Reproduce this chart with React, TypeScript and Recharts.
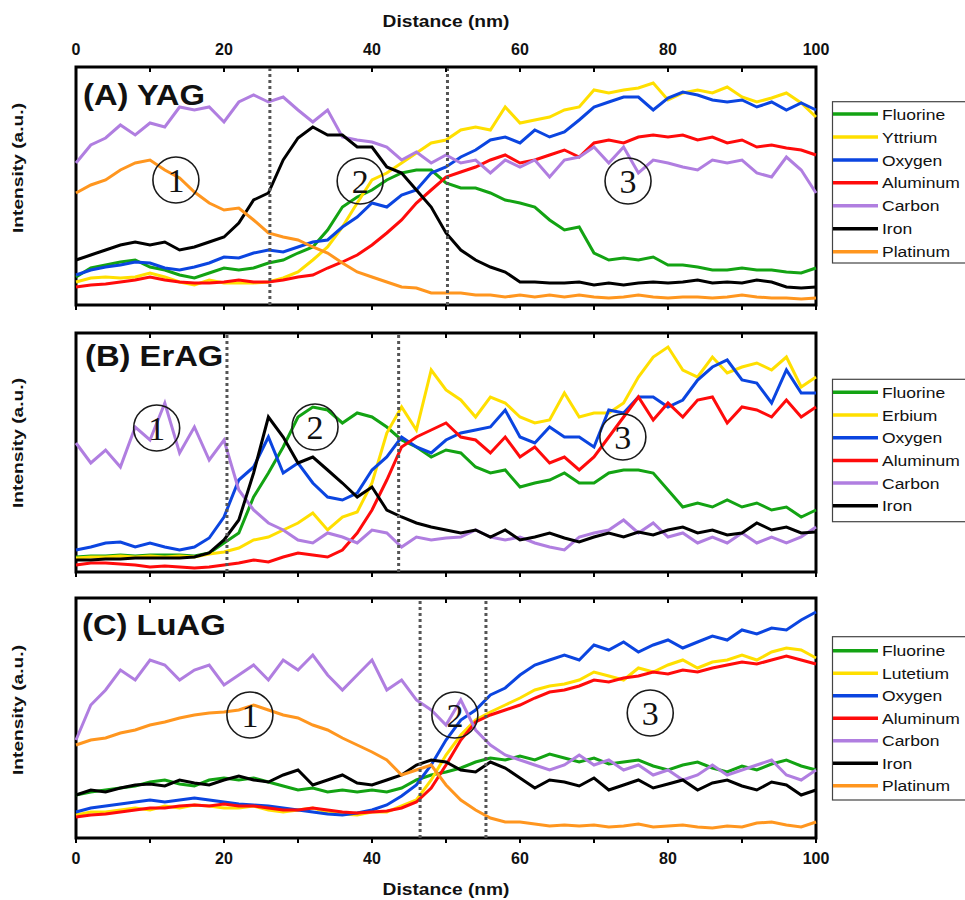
import React from 'react';
import { LineChart, Line, XAxis, YAxis, ReferenceLine, ReferenceArea, ReferenceDot } from 'recharts';

// ---------- shared axis data ----------
const distance = [0, 2, 4, 6, 8, 10, 12, 14, 16, 18, 20, 22, 24, 26, 28, 30, 32, 34, 36, 38, 40, 42, 44, 46, 48, 50, 52, 54, 56, 58, 60, 62, 64, 66, 68, 70, 72, 74, 76, 78, 80, 82, 84, 86, 88, 90, 92, 94, 96, 98, 100];
const xTicks = [0, 10, 20, 30, 40, 50, 60, 70, 80, 90, 100];
const xTickLabels = [0, 20, 40, 60, 80, 100];

// ---------- (A) YAG ----------
const yagFluorine = [28, 37, 40, 43, 45, 38, 35, 30, 27, 32, 37, 35, 37, 42, 45, 52, 58, 75, 98, 108, 115, 125, 132, 135, 135, 122, 117, 117, 112, 105, 102, 98, 85, 75, 78, 52, 45, 47, 45, 48, 40, 40, 38, 35, 35, 37, 35, 35, 33, 32, 37];
const yagYttrium = [23, 27, 28, 27, 28, 32, 28, 23, 20, 25, 22, 22, 22, 23, 27, 33, 45, 58, 78, 102, 125, 132, 142, 152, 162, 165, 175, 178, 175, 198, 182, 185, 188, 195, 198, 215, 212, 215, 217, 222, 205, 212, 215, 212, 218, 208, 203, 207, 212, 202, 188];
const yagOxygen = [30, 35, 38, 40, 43, 42, 37, 35, 38, 42, 48, 47, 52, 55, 53, 58, 63, 65, 78, 88, 102, 98, 110, 115, 132, 138, 148, 155, 165, 168, 162, 175, 168, 173, 185, 198, 203, 208, 208, 195, 207, 213, 210, 205, 203, 205, 198, 203, 195, 202, 195];
const yagAluminum = [18, 20, 21, 23, 25, 28, 25, 23, 22, 22, 23, 25, 23, 23, 25, 28, 30, 37, 43, 50, 60, 72, 85, 102, 115, 128, 133, 138, 145, 150, 142, 145, 150, 155, 148, 162, 165, 162, 168, 170, 168, 170, 165, 168, 162, 165, 158, 160, 157, 155, 150];
const yagCarbon = [142, 160, 167, 180, 170, 182, 178, 198, 195, 198, 183, 203, 210, 203, 208, 195, 183, 195, 168, 165, 163, 158, 145, 153, 142, 150, 142, 145, 132, 145, 138, 145, 128, 145, 148, 158, 142, 158, 132, 145, 142, 138, 135, 145, 142, 145, 132, 128, 148, 135, 112];
const yagIron = [45, 50, 55, 60, 63, 60, 63, 55, 58, 63, 68, 82, 105, 112, 145, 167, 178, 170, 170, 158, 158, 138, 132, 115, 98, 72, 55, 45, 38, 33, 23, 23, 22, 22, 23, 20, 22, 20, 22, 23, 22, 23, 25, 22, 23, 22, 25, 23, 18, 17, 18];
const yagPlatinum = [112, 120, 125, 135, 142, 145, 135, 127, 113, 102, 95, 97, 85, 72, 68, 65, 58, 52, 42, 33, 28, 23, 18, 17, 12, 12, 12, 10, 10, 8, 10, 8, 10, 8, 10, 8, 7, 8, 10, 8, 7, 8, 8, 7, 8, 10, 8, 7, 7, 6, 7];

// ---------- (B) ErAG ----------
const eragFluorine = [15, 16, 16, 17, 16, 17, 17, 17, 16, 19, 29, 39, 75, 99, 125, 155, 165, 162, 149, 159, 155, 145, 132, 125, 115, 122, 119, 105, 99, 102, 85, 89, 92, 99, 89, 89, 99, 102, 102, 99, 82, 65, 69, 65, 72, 65, 69, 62, 65, 55, 62];
const eragErbium = [14, 15, 15, 16, 15, 16, 15, 16, 15, 18, 20, 24, 32, 35, 42, 49, 59, 42, 55, 60, 89, 139, 165, 142, 202, 182, 172, 155, 175, 169, 155, 149, 152, 179, 155, 159, 159, 169, 195, 215, 225, 202, 195, 215, 199, 205, 209, 202, 215, 185, 195];
const eragOxygen = [22, 25, 29, 30, 25, 29, 25, 22, 25, 34, 55, 92, 105, 135, 99, 109, 89, 75, 72, 79, 102, 115, 135, 125, 119, 132, 139, 142, 145, 162, 135, 129, 145, 135, 135, 125, 162, 159, 175, 175, 165, 172, 192, 205, 212, 192, 189, 169, 202, 179, 179];
const eragAluminum = [7, 9, 9, 8, 7, 5, 6, 5, 4, 5, 7, 9, 12, 10, 15, 19, 17, 15, 22, 39, 62, 92, 125, 135, 142, 149, 135, 132, 119, 135, 115, 125, 109, 115, 102, 115, 135, 155, 175, 152, 169, 155, 172, 175, 149, 165, 162, 155, 172, 155, 165];
const eragCarbon = [129, 109, 122, 105, 145, 132, 169, 119, 145, 112, 132, 82, 62, 49, 42, 32, 29, 39, 35, 29, 42, 39, 25, 35, 32, 34, 35, 42, 35, 32, 35, 29, 25, 22, 35, 39, 42, 52, 39, 49, 35, 39, 29, 35, 29, 39, 29, 35, 29, 35, 45];
const eragIron = [12, 12, 13, 13, 14, 14, 14, 14, 15, 19, 32, 52, 99, 155, 135, 109, 115, 102, 89, 75, 85, 62, 55, 49, 45, 42, 39, 42, 35, 42, 32, 35, 39, 34, 30, 35, 39, 35, 40, 37, 42, 45, 39, 42, 37, 39, 49, 42, 45, 39, 40];

// ---------- (C) LuAG ----------
const luagFluorine = [43, 46, 48, 50, 52, 56, 58, 54, 52, 58, 60, 58, 60, 56, 52, 48, 50, 46, 48, 46, 48, 46, 50, 58, 63, 66, 70, 76, 80, 78, 82, 78, 84, 80, 76, 80, 74, 76, 78, 72, 68, 73, 76, 70, 66, 72, 68, 74, 78, 72, 68];
const luagLutetium = [23, 26, 26, 28, 30, 28, 32, 30, 33, 32, 30, 30, 32, 28, 26, 28, 30, 26, 24, 23, 26, 26, 32, 38, 58, 83, 103, 118, 126, 133, 140, 148, 152, 154, 158, 166, 162, 158, 170, 166, 173, 178, 170, 176, 178, 183, 178, 186, 190, 188, 180];
const luagOxygen = [26, 30, 32, 34, 36, 38, 36, 38, 40, 38, 36, 34, 33, 32, 30, 28, 26, 24, 23, 25, 28, 33, 42, 53, 73, 98, 118, 128, 143, 150, 163, 173, 178, 183, 178, 193, 188, 196, 186, 193, 198, 190, 196, 202, 198, 208, 204, 210, 208, 218, 226];
const luagAluminum = [21, 23, 24, 26, 28, 30, 30, 32, 33, 32, 34, 32, 32, 30, 28, 28, 30, 28, 26, 25, 26, 27, 30, 36, 50, 73, 98, 116, 123, 128, 133, 140, 146, 148, 152, 158, 156, 160, 162, 166, 164, 168, 166, 170, 173, 176, 174, 178, 182, 178, 174];
const luagCarbon = [98, 133, 148, 168, 158, 178, 173, 158, 168, 173, 153, 163, 173, 158, 178, 168, 183, 163, 148, 163, 178, 148, 158, 138, 128, 113, 138, 108, 93, 83, 78, 73, 68, 73, 83, 73, 78, 68, 73, 63, 68, 58, 63, 73, 63, 68, 73, 78, 63, 58, 68];
const luagIron = [43, 48, 46, 50, 53, 54, 52, 58, 55, 53, 58, 62, 58, 56, 63, 68, 53, 58, 63, 55, 53, 58, 63, 73, 78, 76, 68, 66, 76, 70, 60, 50, 58, 56, 52, 60, 48, 53, 58, 50, 54, 58, 48, 55, 58, 52, 48, 56, 53, 43, 48];
const luagPlatinum = [93, 98, 100, 105, 108, 113, 116, 120, 123, 125, 126, 128, 133, 128, 123, 120, 113, 108, 100, 93, 86, 78, 63, 68, 73, 53, 38, 28, 20, 16, 16, 14, 12, 13, 12, 13, 11, 12, 14, 11, 12, 13, 11, 10, 12, 11, 15, 16, 13, 11, 16];

// ---------- boundaries and region markers ----------
const yagDividers = [26.2, 50.2];
const eragDividers = [20.4, 43.6];
const luagDividers = [46.5, 55.4];
const regionLabels = ['1', '2', '3'];
const yagMarkerX = [13.5, 38.4, 74.6];
const yagMarkerY = [125, 124, 124];
const eragMarkerX = [10.9, 32.3, 73.9];
const eragMarkerY = [144, 145, 135];
const luagMarkerX = [23.5, 51.2, 77.6];
const luagMarkerY = [123, 123, 125];

// ---------- styling ----------
const W = 965;
const H = 900;
const PLOT_LEFT = 76;
const PLOT_RIGHT = 816;
const SANS = '"Liberation Sans", Arial, sans-serif';
const SERIF = '"Liberation Serif", "Times New Roman", serif';
const STRETCH = 1.13;

const C_F = '#13a313';
const C_Y = '#ffdf00';
const C_O = '#0b45e0';
const C_AL = '#ff0b0b';
const C_C = '#b07ee0';
const C_FE = '#000000';
const C_PT = '#ff961f';

type Series = { name: string; color: string; values: number[] };
type PanelCfg = {
  title: string;
  titleX: number;
  titleBase: number;
  top: number;
  bottom: number;
  series: Series[];
  dividers: number[];
  markerX: number[];
  markerY: number[];
  topLabels: boolean;
  bottomLabels: boolean;
  yLabelCenter: number;
  legendTop: number;
  legendBottom: number;
  rowFirst: number;
  rowStep: number;
};

const panels: PanelCfg[] = [
  {
    title: '(A) YAG', titleX: 83, titleBase: 104.5, top: 67, bottom: 305,
    series: [
      { name: 'Fluorine', color: C_F, values: yagFluorine },
      { name: 'Yttrium', color: C_Y, values: yagYttrium },
      { name: 'Oxygen', color: C_O, values: yagOxygen },
      { name: 'Aluminum', color: C_AL, values: yagAluminum },
      { name: 'Carbon', color: C_C, values: yagCarbon },
      { name: 'Iron', color: C_FE, values: yagIron },
      { name: 'Platinum', color: C_PT, values: yagPlatinum },
    ],
    dividers: yagDividers, markerX: yagMarkerX, markerY: yagMarkerY,
    topLabels: true, bottomLabels: false, yLabelCenter: 168,
    legendTop: 101.7, legendBottom: 263, rowFirst: 114, rowStep: 22.95,
  },
  {
    title: '(B) ErAG', titleX: 85, titleBase: 366, top: 333, bottom: 572,
    series: [
      { name: 'Fluorine', color: C_F, values: eragFluorine },
      { name: 'Erbium', color: C_Y, values: eragErbium },
      { name: 'Oxygen', color: C_O, values: eragOxygen },
      { name: 'Aluminum', color: C_AL, values: eragAluminum },
      { name: 'Carbon', color: C_C, values: eragCarbon },
      { name: 'Iron', color: C_FE, values: eragIron },
    ],
    dividers: eragDividers, markerX: eragMarkerX, markerY: eragMarkerY,
    topLabels: false, bottomLabels: false, yLabelCenter: 443,
    legendTop: 379.3, legendBottom: 521.7, rowFirst: 392.3, rowStep: 22.7,
  },
  {
    title: '(C) LuAG', titleX: 82, titleBase: 635, top: 598, bottom: 838,
    series: [
      { name: 'Fluorine', color: C_F, values: luagFluorine },
      { name: 'Lutetium', color: C_Y, values: luagLutetium },
      { name: 'Oxygen', color: C_O, values: luagOxygen },
      { name: 'Aluminum', color: C_AL, values: luagAluminum },
      { name: 'Carbon', color: C_C, values: luagCarbon },
      { name: 'Iron', color: C_FE, values: luagIron },
      { name: 'Platinum', color: C_PT, values: luagPlatinum },
    ],
    dividers: luagDividers, markerX: luagMarkerX, markerY: luagMarkerY,
    topLabels: false, bottomLabels: true, yLabelCenter: 710,
    legendTop: 636.7, legendBottom: 800, rowFirst: 650.7, rowStep: 22.5,
  },
];

const TOP_LABEL_BASE = 55;
const BOTTOM_LABEL_BASE = 864;

function TickLabel(props: any) {
  const { x, payload, base, show } = props;
  if (!show || xTickLabels.indexOf(payload.value) < 0) return <g />;
  return (
    <text x={x} y={base} textAnchor="middle" fontFamily={SANS} fontWeight="bold" fontSize={16} fill="#111">
      {payload.value}
    </text>
  );
}

function Panel({ p }: { p: PanelCfg }) {
  const rows = distance.map((d, i) => {
    const r: Record<string, number> = { d };
    p.series.forEach((s) => {
      r[s.name] = s.values[i];
    });
    return r;
  });
  const yMax = p.bottom - p.top;
  const topAxisH = 30;
  const bottomAxisH = 40;
  const margin = {
    top: p.top - topAxisH,
    bottom: H - p.bottom - bottomAxisH,
    left: PLOT_LEFT,
    right: W - PLOT_RIGHT,
  };
  return (
    <div style={{ position: 'absolute', left: 0, top: 0 }}>
      <LineChart width={W} height={H} data={rows} margin={margin}>
        <XAxis
          xAxisId="t"
          orientation="top"
          dataKey="d"
          type="number"
          domain={[0, 100]}
          ticks={xTicks}
          interval={0}
          height={topAxisH}
          axisLine={false}
          tickSize={-5}
          tickMargin={0}
          tickLine={{ stroke: '#000', strokeWidth: 2 }}
          tick={(tp: any) => <TickLabel {...tp} base={TOP_LABEL_BASE} show={p.topLabels} />}
        />
        <XAxis
          xAxisId="b"
          orientation="bottom"
          dataKey="d"
          type="number"
          domain={[0, 100]}
          ticks={xTicks}
          interval={0}
          height={bottomAxisH}
          axisLine={false}
          tickSize={5}
          tickMargin={0}
          tickLine={{ stroke: '#000', strokeWidth: 2 }}
          tick={(tp: any) => <TickLabel {...tp} base={BOTTOM_LABEL_BASE} show={p.bottomLabels} />}
        />
        <YAxis yAxisId="v" hide type="number" domain={[0, yMax]} />
        {p.series.map((s) => (
          <Line
            key={s.name}
            xAxisId="b"
            yAxisId="v"
            type="linear"
            dataKey={s.name}
            stroke={s.color}
            strokeWidth={3}
            dot={false}
            activeDot={false}
            isAnimationActive={false}
          />
        ))}
        {p.dividers.map((x) => (
          <ReferenceLine key={x} xAxisId="b" yAxisId="v" x={x} stroke="#555" strokeWidth={3} strokeDasharray="3 3" />
        ))}
        {p.markerX.map((x, i) => (
          <ReferenceDot
            key={i}
            xAxisId="b"
            yAxisId="v"
            x={x}
            y={p.markerY[i]}
            r={23}
            fill="none"
            stroke="#1a1a1a"
            strokeWidth={1.6}
            label={{ value: regionLabels[i], position: 'center', fill: '#111', fontSize: 34, fontFamily: SERIF }}
          />
        ))}
        <ReferenceArea xAxisId="b" yAxisId="v" x1={0} x2={100} y1={0} y2={yMax} fill="none" fillOpacity={0} stroke="#000" strokeWidth={3} />
      </LineChart>
    </div>
  );
}

function StretchText({ x, y, children, size, bold, anchor }: any) {
  return (
    <text
      transform={`translate(${x} ${y}) scale(${STRETCH} 1)`}
      fontFamily={SANS}
      fontWeight={bold ? 'bold' : 'normal'}
      fontSize={size}
      textAnchor={anchor || 'start'}
      fill="#111"
    >
      {children}
    </text>
  );
}

function Overlay() {
  return (
    <svg width={W} height={H} style={{ position: 'absolute', left: 0, top: 0, pointerEvents: 'none' }}>
      <StretchText x={446} y={27} size={17} bold anchor="middle">Distance (nm)</StretchText>
      <StretchText x={446} y={895} size={17} bold anchor="middle">Distance (nm)</StretchText>
      {panels.map((p) => (
        <g key={p.title}>
          <StretchText x={p.titleX} y={p.titleBase} size={29} bold>{p.title}</StretchText>
          <text
            transform={`translate(23 ${p.yLabelCenter}) rotate(-90) scale(1.28 1)`}
            textAnchor="middle"
            fontFamily={SANS}
            fontWeight="bold"
            fontSize={15}
            fill="#111"
          >
            Intensity (a.u.)
          </text>
          <rect x={832.5} y={p.legendTop} width={140} height={p.legendBottom - p.legendTop} fill="#fff" stroke="#444" strokeWidth={1.2} />
          {p.series.map((s, i) => {
            const cy = p.rowFirst + i * p.rowStep;
            return (
              <g key={s.name}>
                <line x1={833} x2={878} y1={cy} y2={cy} stroke={s.color} strokeWidth={3.5} />
                <StretchText x={882} y={cy + 5.6} size={15.5}>{s.name}</StretchText>
              </g>
            );
          })}
        </g>
      ))}
    </svg>
  );
}

export default function App() {
  return (
    <div style={{ position: 'absolute', left: 0, top: 0, width: W, height: H, background: '#fff' }}>
      {panels.map((p) => (
        <Panel key={p.title} p={p} />
      ))}
      <Overlay />
    </div>
  );
}
